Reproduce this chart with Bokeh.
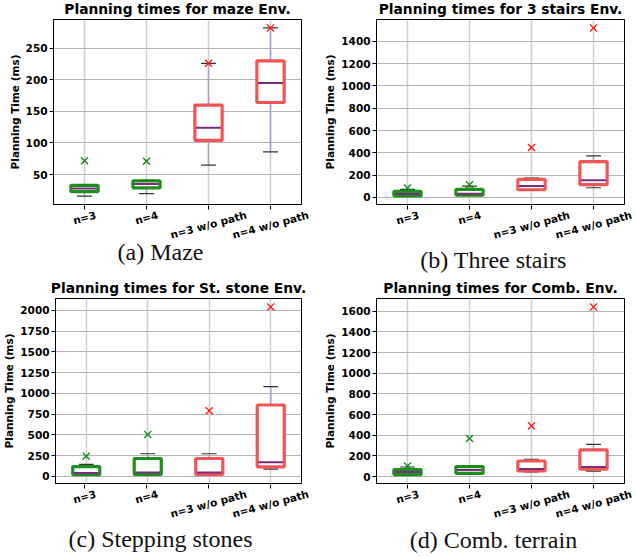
import math
from bokeh.plotting import figure
from bokeh.layouts import column, row
from bokeh.models import Range1d, FixedTicker
from bokeh.core.properties import value
from bokeh.embed import file_html
from bokeh.resources import INLINE

categories = ["n=3", "n=4", "n=3 w/o path", "n=4 w/o path"]

# Maze
maze_lo = [16, 20, 65, 86]
maze_q1 = [23, 29, 104, 164]
maze_med = [28, 35, 124, 195]
maze_q3 = [33, 40, 160, 230]
maze_hi = [34, 41, 226, 282]
maze_out = [72, 71, 226, 282]
maze_ticks = [50, 100, 150, 200, 250]

# Three stairs
stairs_lo = [12, 18, 63, 87]
stairs_q1 = [14, 21, 69, 114]
stairs_med = [30, 33, 102, 153]
stairs_q3 = [54, 72, 162, 321]
stairs_hi = [72, 102, 174, 372]
stairs_out = [84, 114, 448, 1520]
stairs_ticks = [0, 200, 400, 600, 800, 1000, 1200, 1400]

# Stepping stones
stone_lo = [15, 15, 15, 88]
stone_q1 = [20, 22, 22, 115]
stone_med = [40, 45, 45, 170]
stone_q3 = [118, 215, 215, 860]
stone_hi = [145, 272, 272, 1081]
stone_out = [242, 505, 791, 2042]
stone_ticks = [0, 250, 500, 750, 1000, 1250, 1500, 1750, 2000]

# Combined terrain
comb_lo = [15, 22, 45, 54]
comb_q1 = [20, 32, 55, 72]
comb_med = [45, 64, 74, 93]
comb_q3 = [68, 97, 151, 258]
comb_hi = [93, 102, 168, 311]
comb_out = [103, 369, 491, 1641]
comb_ticks = [0, 200, 400, 600, 800, 1000, 1200, 1400, 1600]

GREEN = "#128a12"
RED = "#f04c4c"
MEDIAN = "#7b2a82"
WHISK = "#b399d0"
CAP = "#333333"
box_colors = [GREEN, GREEN, RED, RED]
out_colors = ["#1a8a1a", "#1a8a1a", "#ff1a1a", "#ff1a1a"]

BOLD_W = {"n": .712, "=": .838, "3": .696, "4": .696, " ": .348, "w": .924,
          "/": .365, "o": .687, "p": .716, "a": .675, "t": .478, "h": .712}

FW, FH = 248, 185          # frame size in px
PPU = FW / 4.0             # px per category unit
TOP = 19                   # space above frame
BOT = 1                    # space under frame inside the plot figure
PANEL_H = 279
STRIP_H = PANEL_H - TOP - FH - BOT
XFS = 10.5
ANG = math.radians(15)
FONT = "DejaVu Sans"
xs = [1, 2, 3, 4]


def text_w(s, fs):
    return sum(BOLD_W.get(c, 0.65) for c in s) * fs


def make_plot(title, lo, q1, med, q3, hi, out, ticks, width, bl):
    vmin = min(lo)
    vmax = max(max(out), max(hi))
    pad = (vmax - vmin) * 0.05
    p = figure(width=width, height=TOP + FH + BOT, output_backend="svg",
               toolbar_location=None, x_axis_location=None,
               x_range=Range1d(0.5, 4.5), y_range=Range1d(vmin - pad, vmax + pad),
               min_border_left=bl, min_border_right=width - bl - FW,
               min_border_top=TOP, min_border_bottom=BOT)
    p.background_fill_color = "white"
    p.border_fill_color = "white"
    p.outline_line_color = "black"
    p.outline_line_width = 1
    p.outline_line_alpha = 1

    p.title.text = title
    p.title.align = "center"
    p.title.vertical_align = "top"
    p.title.standoff = 1
    p.title.text_font = FONT
    p.title.text_font_style = "bold"
    p.title.text_font_size = "13.8px"
    p.title.text_color = "black"

    p.yaxis.ticker = FixedTicker(ticks=ticks)
    p.xgrid.ticker = FixedTicker(ticks=xs)
    p.ygrid.ticker = p.yaxis.ticker
    p.xgrid.grid_line_color = "#cfcfcf"
    p.xgrid.grid_line_width = 1.5
    p.ygrid.grid_line_color = "#b4b4b4"
    p.ygrid.grid_line_width = 1.2

    ax = p.yaxis[0]
    ax.axis_line_color = "black"
    ax.major_tick_out = 4
    ax.major_tick_in = 0
    ax.major_tick_line_color = "black"
    ax.minor_tick_line_color = None
    ax.major_label_text_font = FONT
    ax.major_label_text_font_style = "bold"
    ax.major_label_text_font_size = "10.5px"
    ax.major_label_text_color = "black"
    ax.major_label_standoff = 2
    ax.axis_label = "Planning Time (ms)"
    ax.axis_label_text_font = FONT
    ax.axis_label_text_font_style = "bold"
    ax.axis_label_text_font_size = "10.5px"
    ax.axis_label_text_color = "black"
    ax.axis_label_standoff = 2

    # whiskers
    p.segment(x0=xs, y0=q3, x1=xs, y1=hi, line_color=WHISK, line_width=1.5)
    p.segment(x0=xs, y0=lo, x1=xs, y1=q1, line_color=WHISK, line_width=1.5)
    # caps
    cw = 0.12
    p.segment(x0=[x - cw for x in xs], y0=hi, x1=[x + cw for x in xs], y1=hi,
              line_color=CAP, line_width=1.2)
    p.segment(x0=[x - cw for x in xs], y0=lo, x1=[x + cw for x in xs], y1=lo,
              line_color=CAP, line_width=1.2)
    # boxes
    bw = 0.22
    p.quad(left=[x - bw for x in xs], right=[x + bw for x in xs], bottom=q1, top=q3,
           fill_color="white", line_color=box_colors, line_width=3.2, line_alpha=0.95)
    # medians
    mw = 0.2
    p.segment(x0=[x - mw for x in xs], y0=med, x1=[x + mw for x in xs], y1=med,
              line_color=MEDIAN, line_width=2)
    # outliers / max
    p.scatter(x=xs, y=out, marker="x", size=10, line_color=out_colors, line_width=1.4)
    return p


def make_strip(caption, width, bl, cap_dx, cap_d):
    """Strip under a plot: category axis ticks (pointing up into the strip's top edge),
    rotated category names centred on their ticks, and the sub-figure caption."""
    br = width - bl - FW
    s = figure(width=width, height=STRIP_H, output_backend="svg",
               toolbar_location=None, min_border=0,
               x_axis_location="above", y_axis_location=None,
               x_range=Range1d(0.5 - bl / PPU, 4.5 + br / PPU),
               y_range=Range1d(0, STRIP_H))
    s.grid.visible = False
    s.outline_line_color = None
    s.background_fill_color = "white"
    s.border_fill_color = "white"

    xa = s.xaxis[0]
    xa.ticker = FixedTicker(ticks=xs)
    xa.major_label_overrides = {x: "" for x in xs}
    xa.major_label_text_font_size = "0px"
    xa.major_label_standoff = 0
    xa.major_tick_in = 4
    xa.major_tick_out = 0
    xa.major_tick_line_color = "black"
    xa.minor_tick_line_color = None
    xa.axis_line_color = None

    def y_of(d):  # d = px below the frame bottom of the plot above
        return STRIP_H + BOT - d

    ys = [y_of(5.6 + (text_w(lab, XFS) * math.sin(ANG) + 9 * math.cos(ANG)) / 2)
          for lab in categories]
    s.text(x=xs, y=ys, text=categories, angle=ANG,
           text_align="center", text_baseline="middle",
           text_font=value(FONT), text_font_style="bold",
           text_font_size=value(f"{XFS}px"), text_color="black")
    s.text(x=[0.5 + cap_dx / PPU], y=[y_of(cap_d - 8)], text=[caption],
           text_align="center", text_baseline="middle",
           text_font=value("Liberation Serif"), text_font_style="normal",
           text_font_size=value("24px"), text_color="#111111")
    return s


pa = make_plot("Planning times for maze Env.",
               maze_lo, maze_q1, maze_med, maze_q3, maze_hi, maze_out, maze_ticks, 318, 53)
pb = make_plot("Planning times for 3 stairs Env.",
               stairs_lo, stairs_q1, stairs_med, stairs_q3, stairs_hi, stairs_out, stairs_ticks, 318, 58)
pc = make_plot("Planning times for St. stone Env.",
               stone_lo, stone_q1, stone_med, stone_q3, stone_hi, stone_out, stone_ticks, 318, 53)
pd = make_plot("Planning times for Comb. Env.",
               comb_lo, comb_q1, comb_med, comb_q3, comb_hi, comb_out, comb_ticks, 318, 58)

sa = make_strip("(a) Maze", 318, 53, 107, 55)
sb = make_strip("(b) Three stairs", 318, 58, 117, 63)
sc = make_strip("(c) Stepping stones", 318, 53, 107, 63)
sd = make_strip("(d) Comb. terrain", 318, 58, 117, 64)

layout = column(row(pa, pb), row(sa, sb), row(pc, pd), row(sc, sd))
open("out.html", "w").write(file_html(layout, INLINE))
